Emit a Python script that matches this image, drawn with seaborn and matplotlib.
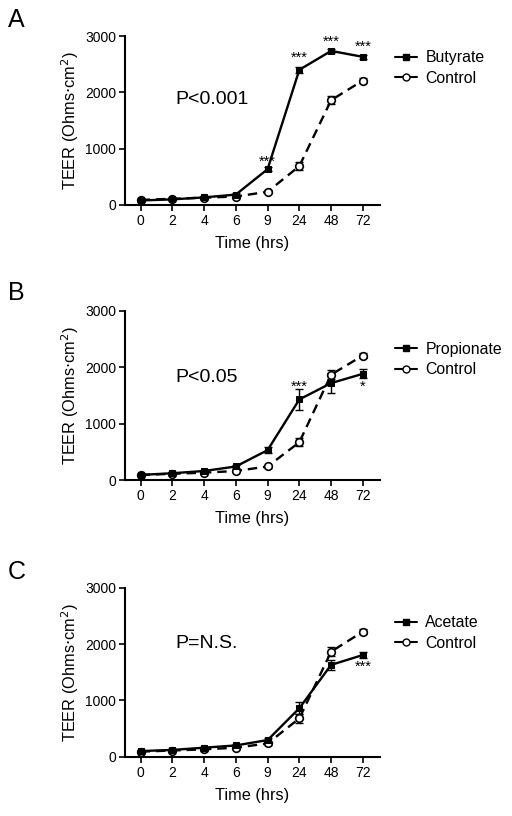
import matplotlib
matplotlib.use("Agg")
import matplotlib.pyplot as plt
from matplotlib.lines import Line2D
import numpy as np
import seaborn as sns

sns.set_style("ticks")
plt.rcParams["font.family"] = ["Liberation Sans", "DejaVu Sans"]
plt.rcParams.update({"text.color": "black", "axes.labelcolor": "black",
                     "xtick.color": "black", "ytick.color": "black",
                     "axes.edgecolor": "black"})

# Time points (categorical axis)
time_labels = ["0", "2", "4", "6", "9", "24", "48", "72"]

# Control (shared by all panels, read per panel)
control_a = [90, 110, 130, 150, 235, 690, 1860, 2210]
control_a_err = [20, 20, 20, 20, 30, 70, 70, 40]
control_b = [90, 110, 130, 160, 240, 670, 1870, 2210]
control_b_err = [20, 20, 20, 20, 30, 70, 80, 40]
control_c = [90, 110, 130, 160, 235, 680, 1865, 2220]
control_c_err = [20, 20, 20, 20, 30, 80, 80, 40]

butyrate = [80, 100, 135, 185, 636, 2400, 2735, 2630]
butyrate_err = [20, 20, 20, 20, 40, 50, 40, 40]
propionate = [90, 120, 160, 240, 530, 1430, 1720, 1885]
propionate_err = [20, 20, 20, 30, 50, 180, 180, 80]
acetate = [100, 120, 160, 200, 295, 860, 1630, 1805]
acetate_err = [20, 20, 20, 20, 30, 110, 90, 60]

# significance labels: (time index, y position, text)
stars_a = [(4, 770, "***"), (5, 2610, "***"), (6, 2900, "***"), (7, 2810, "***")]
stars_b = [(5, 1650, "***"), (7, 1660, "*")]
stars_c = [(7, 1600, "***")]

panels = [
    ("A", "Butyrate", butyrate, butyrate_err, control_a, control_a_err, stars_a,
     "P<0.001", 1865, 205),
    ("B", "Propionate", propionate, propionate_err, control_b, control_b_err, stars_b,
     "P<0.05", 1815, 480),
    ("C", "Acetate", acetate, acetate_err, control_c, control_c_err, stars_c,
     "P=N.S.", 2015, 756.7),
]
legend_y = [0.81, 0.713, 0.732]
letter_y = [20, 293, 572]

W, H = 512, 816
fig = plt.figure(figsize=(W / 100, H / 100), dpi=100)
x = np.arange(len(time_labels))

for i, (letter, name, treat, treat_err, ctrl, ctrl_err, stars, ptext, py, bottom_px) in enumerate(panels):
    ax = fig.add_axes([125 / W, 1 - bottom_px / H, 255 / W, 169 / H])

    sns.lineplot(x=x, y=ctrl, ax=ax, color="black", linestyle=(0, (4, 2.5)), linewidth=1.7,
                 marker="o", markersize=5.5, markerfacecolor="white", markeredgecolor="black",
                 markeredgewidth=1.2, clip_on=False, zorder=3)
    sns.lineplot(x=x, y=treat, ax=ax, color="black", linewidth=1.7,
                 marker="s", markersize=5, markerfacecolor="black", markeredgecolor="black",
                 clip_on=False, zorder=4)
    ax.errorbar(x, ctrl, yerr=ctrl_err, fmt="none", ecolor="black", elinewidth=1,
                capsize=3, capthick=1, zorder=2, clip_on=False)
    ax.errorbar(x, treat, yerr=treat_err, fmt="none", ecolor="black", elinewidth=1,
                capsize=3, capthick=1, zorder=2, clip_on=False)

    for xi, yi, s in stars:
        ax.text(xi, yi, s, ha="center", va="center", fontsize=10.5)

    ax.text(1.1, py, ptext, ha="left", va="center", fontsize=14)

    ax.set_xlim(-0.49, 7.54)
    ax.set_ylim(0, 3000)
    ax.set_xticks(x)
    ax.set_xticklabels(time_labels)
    ax.set_yticks([0, 1000, 2000, 3000])
    ax.tick_params(axis="both", labelsize=10, length=4, width=1.2, pad=2.5)
    for sp in ["left", "bottom"]:
        ax.spines[sp].set_linewidth(1.5)
    sns.despine(ax=ax)
    ax.set_xlabel("Time (hrs)", fontsize=11.8, labelpad=6)
    ax.set_ylabel("TEER (Ohms$\\cdot$cm$^2$)", fontsize=11.8, labelpad=3)

    handles = [
        Line2D([], [], color="black", linewidth=1.5, marker="s", markersize=4.5,
               markerfacecolor="black"),
        Line2D([], [], color="black", linewidth=1.5, marker="o", markersize=5,
               markerfacecolor="white"),
    ]
    ax.legend(handles, [name, "Control"], loc="center left",
              bbox_to_anchor=(1.06, legend_y[i]), frameon=False, fontsize=11.4,
              handlelength=1.4, handletextpad=0.5, labelspacing=0.35,
              borderpad=0, borderaxespad=0)

    fig.text(8 / W, 1 - letter_y[i] / H, letter, fontsize=18, ha="left", va="center")

fig.savefig("out.png", dpi=100)
